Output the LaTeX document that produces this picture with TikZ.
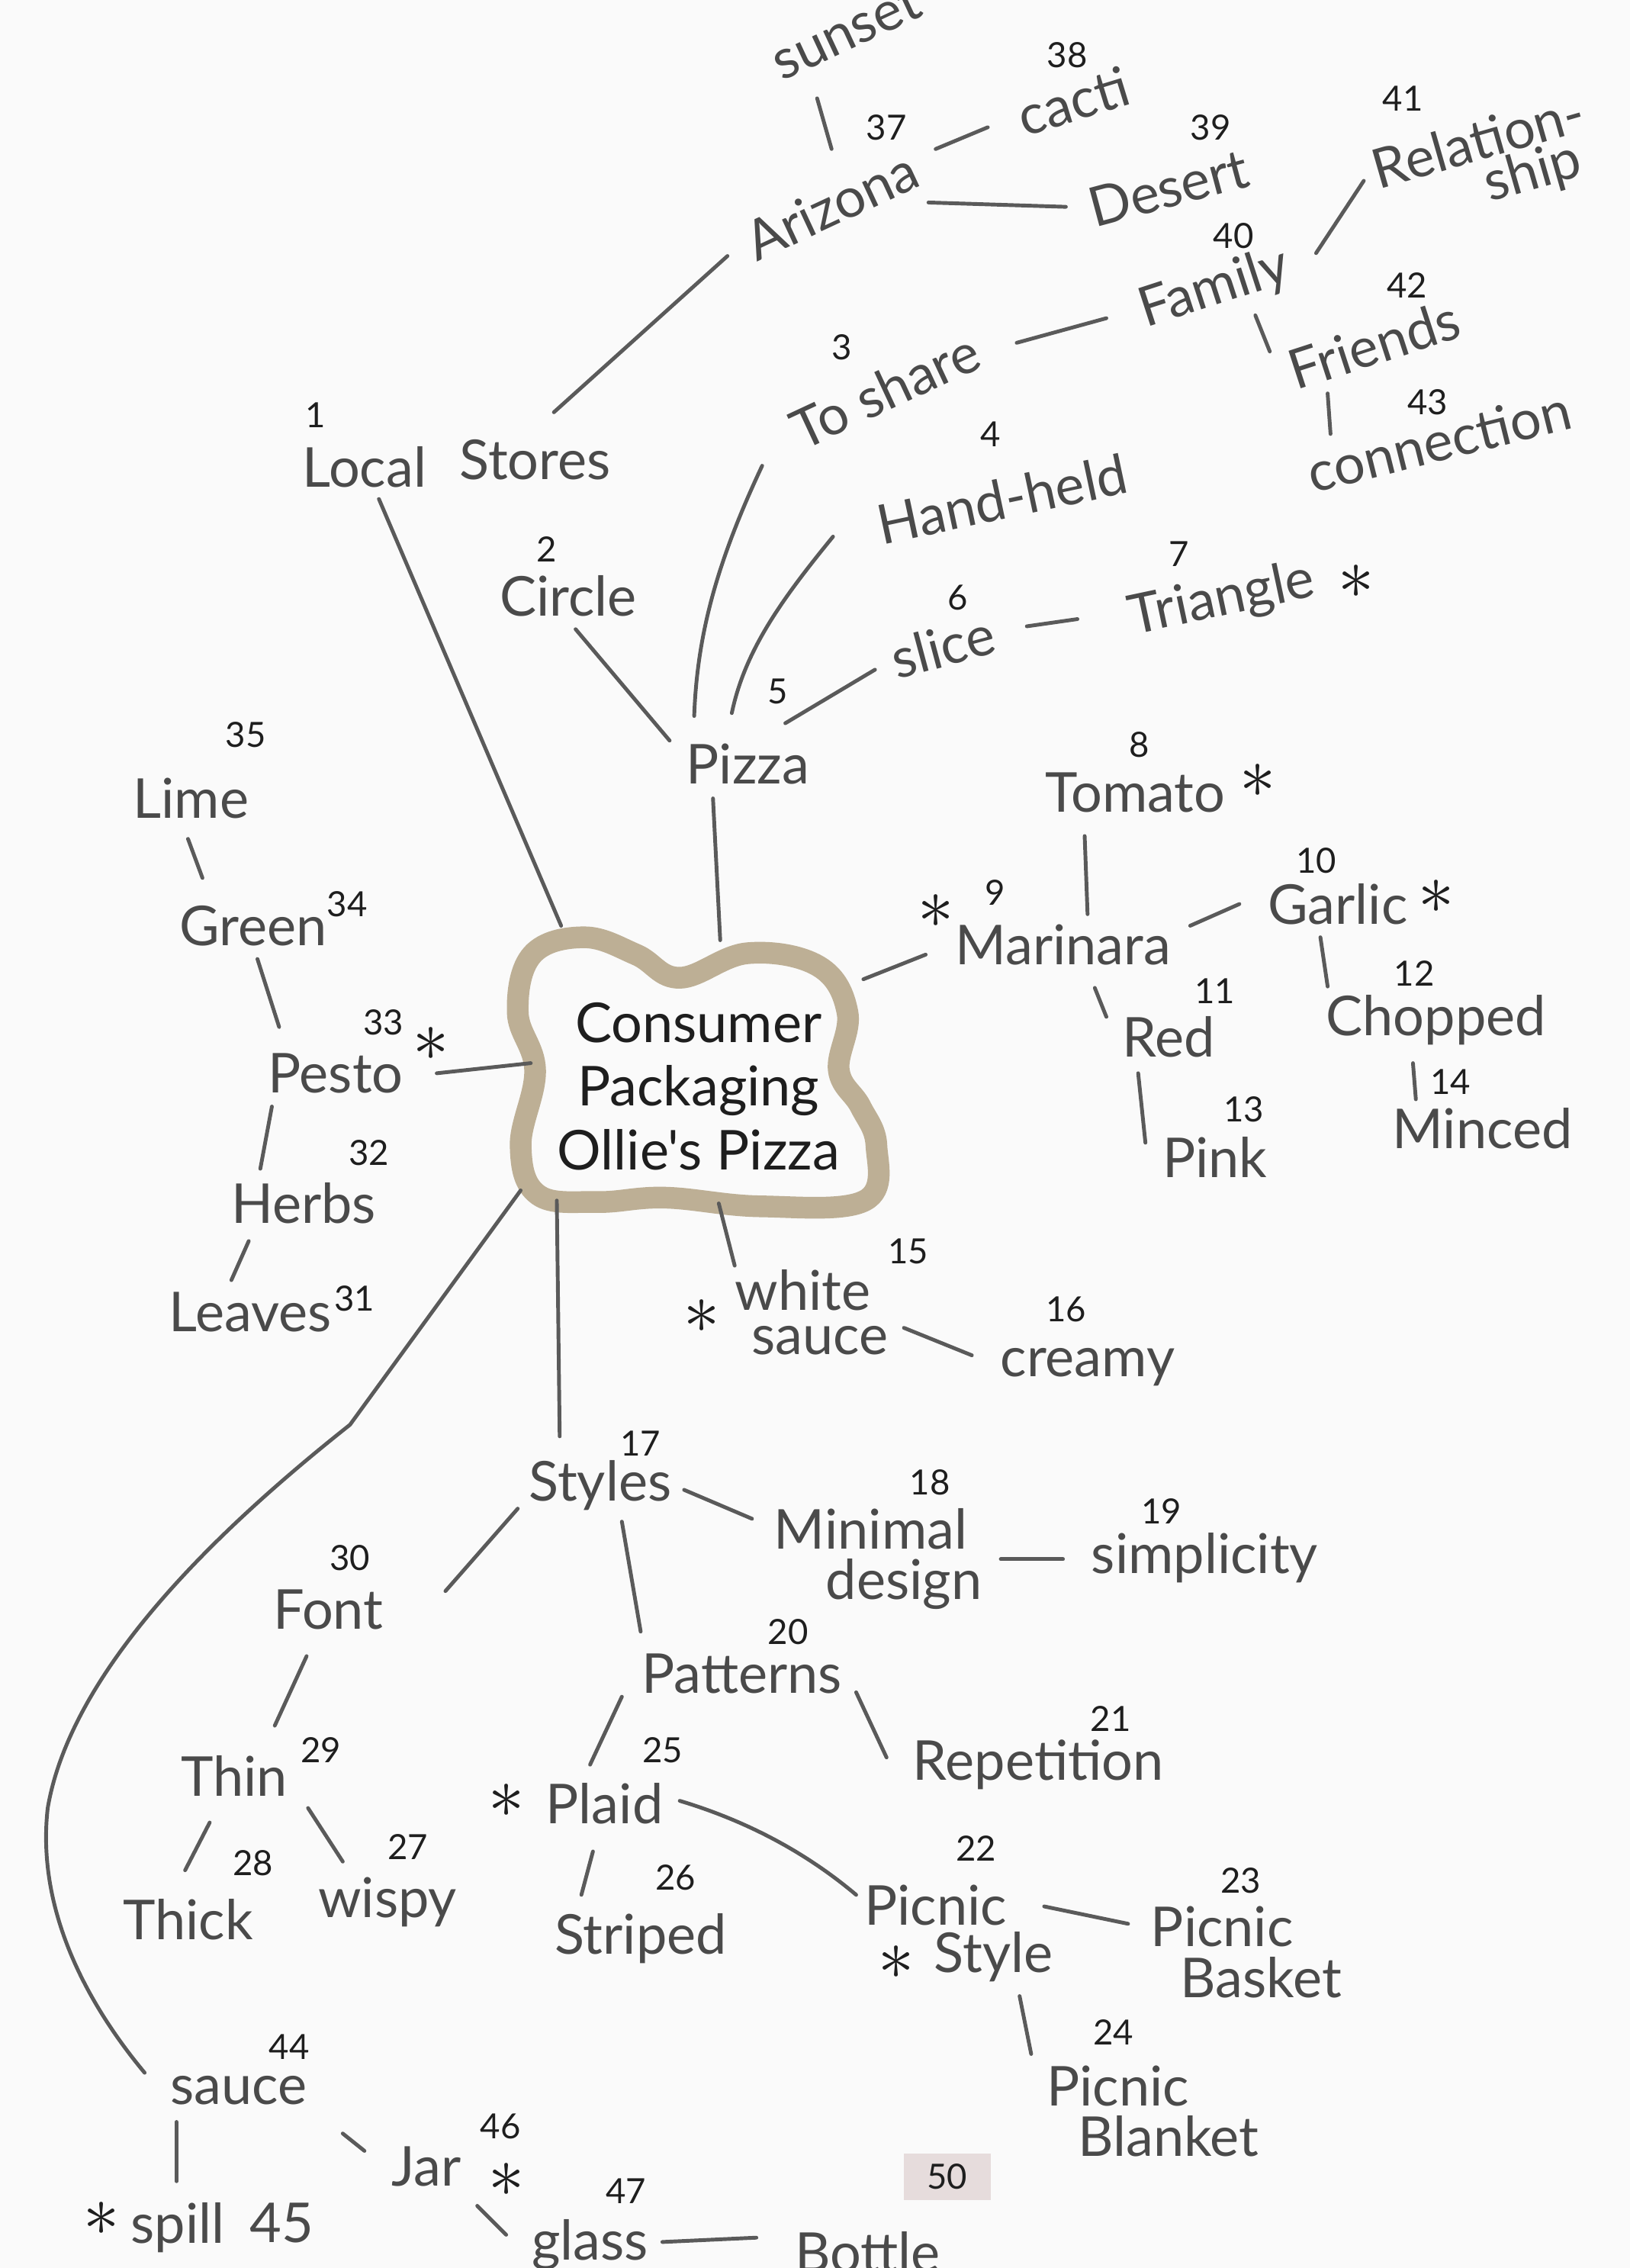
\documentclass[tikz,border=0pt]{standalone}
\usepackage{fontspec}
\setmainfont{Lato}
\newfontfamily\hand{Lato}
\usetikzlibrary{calc}
\definecolor{pencil}{HTML}{4A4A4A}
\definecolor{lead}{HTML}{5A5A5A}
\definecolor{ink}{HTML}{1E1E1E}
\definecolor{tanline}{HTML}{BDAF95}
\definecolor{paper}{HTML}{FAFAFA}
\definecolor{tag}{HTML}{E6DCDC}
\newcommand\wfont{\hand\fontsize{19}{22}\selectfont}
\newcommand\nfont{\hand\fontsize{12}{13}\selectfont}
\newcommand\lnk[4]{\draw[ln] ([shift={(#2)}]#1.center) -- ([shift={(#4)}]#3.center);}
\tikzset{
  w/.style={font=\wfont, text=pencil, inner sep=0pt},
  num/.style={font=\nfont, text=ink, inner sep=0pt},
  star/.style={font=\fontsize{24}{24}\selectfont, text=ink, inner sep=0pt},
  ln/.style={draw=lead, line width=1.3pt, line cap=round},
}
\begin{document}
\begin{tikzpicture}[x=0.5pt,y=-0.5pt]
\useasboundingbox (0,0) rectangle (1127,1568);
\fill[paper] (0,0) rectangle (1127,1568);
\clip (0,0) rectangle (1127,1568);

% central blob
\draw[tanline, line width=7.5pt, line join=round]
  plot[smooth cycle, tension=0.65] coordinates {(368,660) (404,648) (440,660) (470,676) (517,659) (566,668) (586,700) (580,740) (595,765) (606,792) (598,830) (526,834) (460,828) (413,831) (372,826) (360,792) (370,740) (358,700)};
\node[font=\hand\fontsize{19}{22}\selectfont, text=ink, align=center, inner sep=0pt] (ctr) at (483,751) {Consumer\\Packaging\\Ollie's Pizza};

% top area
\node[w, rotate=25] (sunset) at (585,22) {sunset};
\node[num] (n37) at (613,88) {37};
\node[w, rotate=25] (arizona) at (575,142) {Arizona};
\node[num] (n38) at (738,38) {38};
\node[w, rotate=17] (cacti) at (742,70) {cacti};
\node[num] (n39) at (837,88) {39};
\node[w, rotate=15] (desert) at (808,130) {Desert};
\node[num] (n41) at (970,68) {41};
\node[w, rotate=16] (rel) at (1022,97) {Relation-};
\node[w, rotate=16] (ship) at (1060,120) {ship};
\node[num] (n40) at (853,163) {40};
\node[w, rotate=18] (family) at (840,200) {Family};
\node[num] (n42) at (973,197) {42};
\node[w, rotate=18] (friends) at (950,238) {Friends};
\node[num] (n43) at (987,278) {43};
\node[w, rotate=14] (connection) at (995,305) {connection};
\node[num] (n3) at (582,240) {3};
\node[w, rotate=25] (toshare) at (612,270) {To share};
\node[num] (n4) at (685,300) {4};
\node[w, rotate=12] (handheld) at (693,345) {Hand-held};
\node[num] (n7) at (815,383) {7};
\node[w, rotate=12] (triangle) at (845,415) {Triangle};
\node[star] (s7) at (938,402) {$\ast$};
\node[num] (n6) at (662,413) {6};
\node[w, rotate=15] (slice) at (652,447) {slice};
\node[num] (n5) at (538,478) {5};
\node[num] (n1) at (218,287) {1};
\node[w] (local) at (252,323) {Local};
\node[w] (stores) at (370,318) {Stores};
\node[num] (n2) at (378,380) {2};
\node[w] (circle) at (393,412) {Circle};
\node[w] (pizza) at (517,528) {Pizza};

% right: marinara
\node[num] (n8) at (788,515) {8};
\node[w] (tomato) at (785,548) {Tomato};
\node[star] (s8) at (870,540) {$\ast$};
\node[num] (n9) at (688,617) {9};
\node[star] (s9) at (647,630) {$\ast$};
\node[w] (marinara) at (735,653) {Marinara};
\node[num] (n10) at (910,595) {10};
\node[w] (garlic) at (925,625) {Garlic};
\node[star] (s10) at (993,620) {$\ast$};
\node[num] (n11) at (840,685) {11};
\node[w] (red) at (808,717) {Red};
\node[num] (n12) at (978,673) {12};
\node[w] (chopped) at (993,705) {Chopped};
\node[num] (n13) at (860,767) {13};
\node[w] (pink) at (840,800) {Pink};
\node[num] (n14) at (1003,748) {14};
\node[w] (minced) at (1025,780) {Minced};

% white sauce
\node[num] (n15) at (628,865) {15};
\node[star] (s15) at (485,910) {$\ast$};
\node[w] (white) at (555,892) {white};
\node[w] (wsauce) at (567,927) {sauce};
\node[num] (n16) at (737,905) {16};
\node[w] (creamy) at (752,945) {creamy};

% styles
\node[num] (n17) at (443,998) {17};
\node[w] (styles) at (415,1027) {Styles};
\node[num] (n18) at (643,1025) {18};
\node[w] (minimal) at (602,1057) {Minimal};
\node[w] (design) at (625,1095) {design};
\node[num] (n19) at (803,1045) {19};
\node[w] (simplicity) at (833,1077) {simplicity};
\node[num] (n20) at (545,1128) {20};
\node[w] (patterns) at (513,1157) {Patterns};
\node[num] (n21) at (768,1188) {21};
\node[w] (repetition) at (718,1220) {Repetition};
\node[num] (n30) at (242,1077) {30};
\node[w] (font) at (227,1113) {Font};
\node[num] (n29) at (222,1210) {29};
\node[w] (thin) at (162,1228) {Thin};
\node[num] (n28) at (175,1288) {28};
\node[w] (thick) at (130,1327) {Thick};
\node[num] (n27) at (282,1277) {27};
\node[w] (wispy) at (268,1315) {wispy};
\node[num] (n25) at (458,1210) {25};
\node[star] (s25) at (350,1245) {$\ast$};
\node[w] (plaid) at (418,1247) {Plaid};
\node[num] (n26) at (467,1298) {26};
\node[w] (striped) at (443,1340) {Striped};
\node[num] (n22) at (675,1278) {22};
\node[w] (picnic) at (647,1317) {Picnic};
\node[star] (s22) at (620,1357) {$\ast$};
\node[w] (pstyle) at (687,1353) {Style};
\node[num] (n23) at (858,1300) {23};
\node[w] (basket1) at (845,1332) {Picnic};
\node[w] (basket2) at (872,1367) {Basket};
\node[num] (n24) at (770,1405) {24};
\node[w] (blanket1) at (773,1442) {Picnic};
\node[w] (blanket2) at (808,1477) {Blanket};

% left: pesto
\node[num] (n31) at (245,898) {31};
\node[w] (leaves) at (173,907) {Leaves};
\node[num] (n32) at (255,797) {32};
\node[w] (herbs) at (210,832) {Herbs};
\node[num] (n33) at (265,707) {33};
\node[star] (s33) at (298,722) {$\ast$};
\node[w] (pesto) at (232,742) {Pesto};
\node[num] (n34) at (240,625) {34};
\node[w] (green) at (175,640) {Green};
\node[num] (n35) at (170,508) {35};
\node[w] (lime) at (132,552) {Lime};

% bottom: sauce
\node[num] (n44) at (200,1415) {44};
\node[w] (sauce) at (165,1445) {sauce};
\node[num] (n46) at (346,1470) {46};
\node[w] (jar) at (295,1498) {Jar};
\node[star] (s46) at (350,1507) {$\ast$};
\node[star] (s45) at (70,1534) {$\ast$};
\node[w] (spill) at (123,1540) {spill};
\node[w] (n45) at (195,1537) {45};
\node[num] (n47) at (433,1515) {47};
\node[w] (glass) at (408,1552) {glass};
\node[w] (bottle) at (600,1557) {Bottle};
\node[num, fill=tag, minimum width=30, minimum height=16, inner sep=2pt] (page) at (655,1505) {50};

% connectors
\lnk{sunset}{-20,46}{arizona}{0,-39}
\lnk{arizona}{72,-39}{cacti}{-59,18}
\lnk{arizona}{67,-2}{desert}{-71,13}
\lnk{family}{70,-25}{rel}{-79,28}
\lnk{family}{28,18}{friends}{-72,5}
\lnk{friends}{-32,34}{connection}{-75,-5}
\lnk{toshare}{91,-33}{family}{-75,20}
\lnk{stores}{13,-33}{arizona}{-72,35}
\lnk{local}{10,22}{ctr}{-95,-111}
\lnk{circle}{5,23}{pizza}{-54,-16}
\draw[ln] ([shift={(-85,52)}]toshare.center) .. controls ([shift={(-117,120)}]toshare.center) and ([shift={(-35,-88)}]pizza.center) .. ([shift={(-37,-33)}]pizza.center);
\draw[ln] ([shift={(-117,26)}]handheld.center) .. controls ([shift={(-153,70)}]handheld.center) and ([shift={(-2,-78)}]pizza.center) .. ([shift={(-11,-35)}]pizza.center);
\lnk{slice}{-47,16}{pizza}{26,-28}
\lnk{slice}{58,-14}{triangle}{-100,13}
\lnk{pizza}{-24,24}{ctr}{15,-101}
\lnk{ctr}{114,-74}{marinara}{-95,7}
\lnk{tomato}{-35,30}{marinara}{17,-21}
\lnk{marinara}{88,-13}{garlic}{-68,0}
\lnk{marinara}{22,30}{red}{-43,-14}
\lnk{red}{-21,25}{pink}{-48,-10}
\lnk{garlic}{-12,23}{chopped}{-75,-23}
\lnk{chopped}{-16,30}{minced}{-46,-20}
\lnk{ctr}{14,81}{white}{-47,-17}
\lnk{wsauce}{58,-9}{creamy}{-80,-8}
\lnk{ctr}{-98,79}{styles}{-28,-34}
\lnk{styles}{58,3}{minimal}{-82,-7}
\lnk{design}{67,-17}{simplicity}{-98,1}
\lnk{styles}{15,25}{patterns}{-70,-29}
\lnk{patterns}{79,13}{repetition}{-105,-5}
\lnk{styles}{-57,16}{font}{81,-13}
\lnk{font}{-15,32}{thin}{28,-35}
\lnk{thin}{-17,32}{thick}{-2,-34}
\lnk{thin}{51,22}{wispy}{-31,-28}
\lnk{patterns}{-83,16}{plaid}{-10,-27}
\lnk{plaid}{-8,33}{striped}{-41,-30}
\draw[ln] ([shift={(52,-2)}]plaid.center) .. controls ([shift={(102,13)}]plaid.center) and ([shift={(-87,-34)}]picnic.center) .. ([shift={(-55,-7)}]picnic.center);
\lnk{picnic}{75,1}{basket1}{-65,-2}
\lnk{pstyle}{18,27}{blanket1}{-60,-22}
\lnk{herbs}{-38,26}{leaves}{-13,-22}
\lnk{pesto}{-44,23}{herbs}{-30,-24}
\lnk{pesto}{70,0}{ctr}{-116,-16}
\lnk{green}{3,23}{pesto}{-39,-32}
\lnk{lime}{-2,28}{green}{-35,-33}
\draw[ln] ([shift={(-123,72)}]ctr.center) -- ([shift={(-241,234)}]ctr.center)
  .. controls (160,1050) and (50,1150) .. (33,1250)
  .. controls (25,1320) and (60,1385) .. ([shift={(-65,-12)}]sauce.center);
\lnk{sauce}{72,30}{jar}{-43,-11}
\lnk{sauce}{-43,22}{spill}{-1,-32}
\lnk{jar}{35,27}{glass}{-58,-7}
\lnk{glass}{50,-2}{bottle}{-77,-10}
\end{tikzpicture}
\end{document}
